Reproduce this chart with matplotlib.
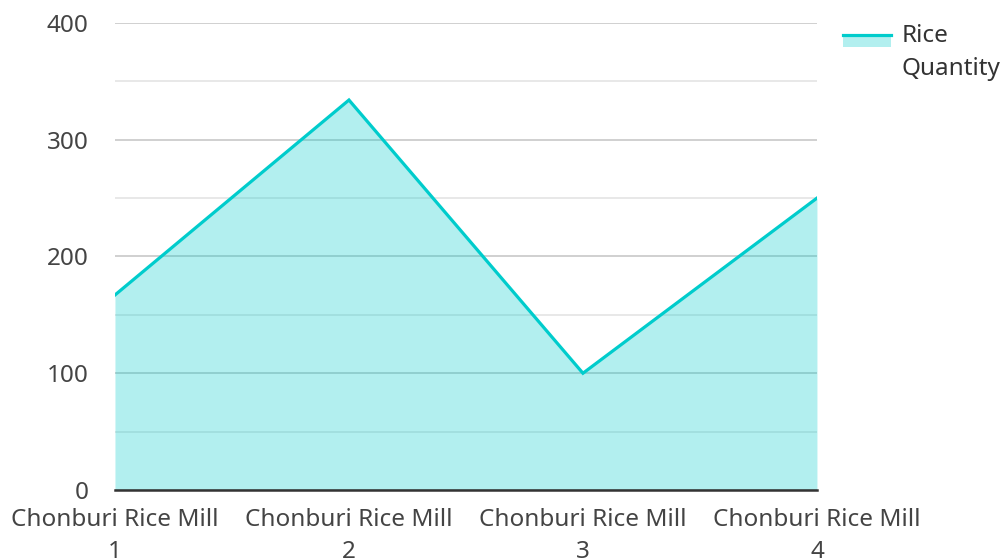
import numpy as np
import matplotlib.pyplot as plt
from matplotlib.patches import Rectangle
from matplotlib.lines import Line2D

# data
mills = ['Chonburi Rice Mill\n1', 'Chonburi Rice Mill\n2',
         'Chonburi Rice Mill\n3', 'Chonburi Rice Mill\n4']
quantity = [167, 334, 100, 250]
seriesName = 'Rice\nQuantity'

lineColor = '#00cccc'
fillColor = '#00cccc'
textColor = '#444444'

plt.rcParams['font.family'] = ['Noto Sans', 'DejaVu Sans']

fig = plt.figure(figsize=(10.04, 5.6), dpi=100)
ax = fig.add_axes([0.1145, 0.125, 0.6992, 0.834])

x = np.arange(len(mills))
ax.fill_between(x, quantity, 0, color=fillColor, alpha=0.3, lw=0, zorder=2)
ax.plot(x, quantity, color=lineColor, lw=2.3, zorder=3, solid_joinstyle='miter')

ax.set_xlim(0, len(mills) - 1)
ax.set_ylim(0, 400)
ax.set_xticks(x)
ax.set_xticklabels(mills, fontsize=17.5, color=textColor, linespacing=1.45)
ax.set_yticks([0, 100, 200, 300, 400])
ax.set_yticks([50, 150, 250, 350], minor=True)
ax.tick_params(axis='y', which='major', length=0, pad=19, labelsize=17.5, labelcolor=textColor)
ax.tick_params(axis='y', which='minor', length=0)
ax.tick_params(axis='x', length=0, pad=13)

ax.grid(axis='y', which='major', color='#c8c8c8', lw=1.2, zorder=1)
ax.grid(axis='y', which='minor', color='#e4e4e4', lw=1.2, zorder=1)
ax.set_axisbelow(True)

for s in ['left', 'right', 'top']:
    ax.spines[s].set_visible(False)
ax.spines['bottom'].set_color('#333333')
ax.spines['bottom'].set_linewidth(1.8)
ax.spines['bottom'].set_zorder(4)

# legend (drawn by hand to match the stacked line + fill swatch)
fig.patches.append(Rectangle((843/1004, 1 - 47/560), 48/1004, 12/560,
                             transform=fig.transFigure, color=fillColor, alpha=0.3, lw=0))
fig.lines.append(Line2D([843/1004, 891/1004], [1 - 35/560, 1 - 35/560],
                        transform=fig.transFigure, color=lineColor, lw=2.3))
fig.text(902/1004, 1 - 24/560, seriesName, fontsize=17.5, color='#333333',
         va='top', ha='left', linespacing=1.5)

fig.savefig('out.png', dpi=100)
